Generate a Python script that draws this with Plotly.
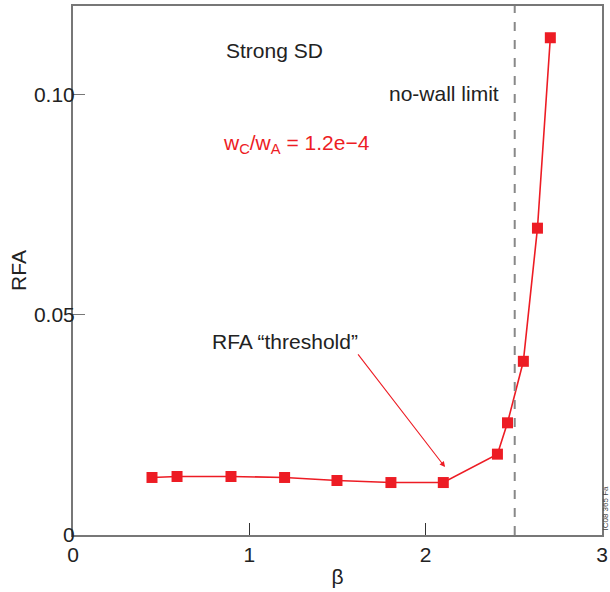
import plotly.graph_objects as go

# Data
beta = [0.448, 0.59, 0.896, 1.20, 1.497, 1.803, 2.10, 2.407, 2.464, 2.554, 2.634, 2.707]
rfa = [0.01305, 0.01327, 0.01327, 0.01305, 0.01236, 0.0119, 0.0119, 0.01834, 0.02545, 0.0394, 0.0696, 0.1128]
no_wall_beta = 2.505
x_ticks = [0, 1, 2, 3]
x_ticktext = ["0", "1", "2", "3"]
y_ticks = [0, 0.05, 0.10]
y_ticktext = ["0", "0.05", "0.10"]

RED = "#ED1C24"
FONT = "Liberation Sans, Arial, Helvetica, sans-serif"

fig = go.Figure()
fig.add_trace(go.Scatter(
    x=beta, y=rfa, mode="lines+markers",
    line=dict(color=RED, width=1.6),
    marker=dict(symbol="square", size=11, color=RED),
    showlegend=False, hoverinfo="x+y",
))

# no-wall limit dashed line
fig.add_shape(type="line", x0=no_wall_beta, x1=no_wall_beta, y0=0, y1=0.12,
              xref="x", yref="y", line=dict(color="#888888", width=2, dash="dash"))

annotations = [
    dict(x=1.14, y=0.1098, text="Strong SD", showarrow=False,
         font=dict(size=21, color="#222222", family=FONT)),
    dict(x=2.43, y=0.1002, text="no-wall limit", showarrow=False, xanchor="right",
         font=dict(size=21, color="#222222", family=FONT)),
    dict(x=0.84, y=0.0888, text="w<sub>C</sub>/w<sub>A</sub> = 1.2e\u22124", showarrow=False,
         xanchor="left", font=dict(size=21, color=RED, family=FONT)),
    dict(x=1.20, y=0.0438, text="RFA \u201cthreshold\u201d", showarrow=False,
         font=dict(size=21, color="#222222", family=FONT)),
    dict(x=2.11, y=0.0154, ax=1.61, ay=0.0413, xref="x", yref="y", axref="x", ayref="y",
         text="", showarrow=True, arrowhead=2, arrowsize=1, arrowwidth=1.1, arrowcolor=RED),
    dict(x=1.0, y=0.0, xref="paper", yref="paper", text="IC08 365 Fa", showarrow=False,
         textangle=-90, xanchor="center", yanchor="bottom", xshift=3, yshift=2,
         font=dict(size=8, color="#444444", family=FONT)),
]

fig.update_layout(
    width=610, height=592,
    margin=dict(l=73, r=8, t=6, b=57, autoexpand=False),
    plot_bgcolor="white", paper_bgcolor="white",
    font=dict(family=FONT, size=21, color="#222222"),
    annotations=annotations,
    xaxis=dict(range=[0, 3], tickvals=x_ticks, ticktext=x_ticktext,
               ticks="inside", ticklen=12, tickcolor="#333333", tickwidth=1,
               showline=True, linecolor="#777777", linewidth=2, mirror=True,
               showgrid=False, zeroline=False, automargin=False,
               ticklabeloverflow="allow",
               title=dict(text="\u03b2", font=dict(size=21), standoff=4),
               tickfont=dict(size=21)),
    yaxis=dict(range=[0, 0.12], tickvals=y_ticks, ticktext=y_ticktext,
               ticks="inside", ticklen=12, tickcolor="#777777", tickwidth=1,
               showline=True, linecolor="#777777", linewidth=2, mirror=True,
               showgrid=False, zeroline=False, automargin=False,
               ticklabeloverflow="allow", ticklabelstandoff=-8,
               title=dict(text="RFA", font=dict(size=21), standoff=2),
               tickfont=dict(size=21)),
)

fig.write_html("out.html", config={"displayModeBar": False})

# remove the browser's default page margin so the figure sits at (0, 0)
with open("out.html", "r", encoding="utf-8") as f:
    html = f.read()
html = html.replace("<head>", "<head><style>html,body{margin:0;padding:0;overflow:hidden}</style>", 1)
with open("out.html", "w", encoding="utf-8") as f:
    f.write(html)
